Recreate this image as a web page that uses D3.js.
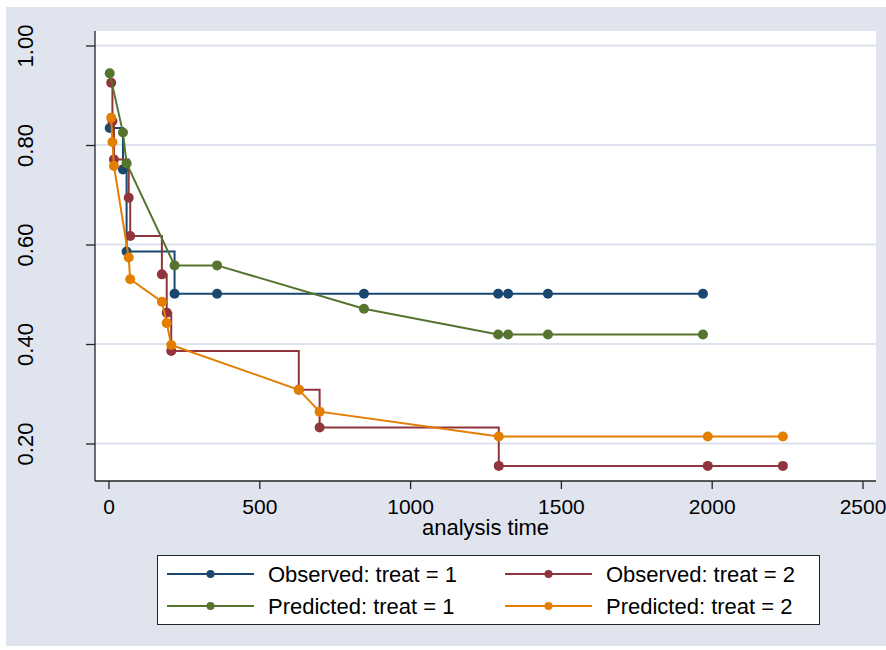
<!DOCTYPE html>
<html lang="en">
  <head>
    <meta charset="UTF-8" />
    <title>Observed vs predicted survival</title>
    <script src="https://d3js.org/d3.v7.min.js"></script>
    <style>
      body {
        margin: 0;
        background: #fff;
      }
      svg {
        display: block;
        font-family: "Liberation Sans", Arial, sans-serif;
      }
    </style>
  </head>
  <body>
    <svg width="886" height="650"></svg>
    <script>
      // analysis times for each treatment group
      const time1 = [4, 48, 60, 219, 360, 847, 1292, 1325, 1457, 1971];
      const time2 = [9, 13, 18, 67, 72, 177, 193, 208, 631, 700, 1294, 1987, 2236];

      // observed (Kaplan-Meier) and predicted (Cox) survival
      const observed1 = [0.834, 0.751, 0.586, 0.501, 0.501, 0.501, 0.501, 0.501, 0.501, 0.501];
      const predicted1 = [0.944, 0.825, 0.763, 0.558, 0.558, 0.471, 0.419, 0.419, 0.419, 0.419];
      const observed2 = [0.925, 0.848, 0.771, 0.694, 0.617, 0.540, 0.463, 0.386, 0.308, 0.232, 0.155, 0.155, 0.155];
      const predicted2 = [0.855, 0.806, 0.758, 0.574, 0.530, 0.485, 0.442, 0.398, 0.308, 0.264, 0.214, 0.214, 0.214];

      const xTicks = [0, 500, 1000, 1500, 2000, 2500];
      const yTicks = [0.2, 0.4, 0.6, 0.8, 1.0];

      const series = [
        { name: "Observed: treat = 1", t: time1, s: observed1, color: "#1a476f", step: true },
        { name: "Observed: treat = 2", t: time2, s: observed2, color: "#90353b", step: true },
        { name: "Predicted: treat = 1", t: time1, s: predicted1, color: "#55752f", step: false },
        { name: "Predicted: treat = 2", t: time2, s: predicted2, color: "#e37e00", step: false },
      ];

      const svg = d3.select("svg");
      const plot = { left: 95, right: 876, top: 31, bottom: 481 };

      // graph region and plot region
      svg.append("rect")
        .attr("x", 6).attr("y", 7)
        .attr("width", 880).attr("height", 639)
        .attr("fill", "#dfe4ef");
      svg.append("rect")
        .attr("x", plot.left).attr("y", plot.top)
        .attr("width", plot.right - plot.left)
        .attr("height", plot.bottom - plot.top)
        .attr("fill", "#fff");

      const x = d3.scaleLinear().domain([0, 2500]).range([108.5, 862.5]);
      const y = d3.scaleLinear().domain([0.2, 1.0]).range([443.5, 45.5]);

      // gridlines
      svg.append("g")
        .selectAll("line")
        .data(yTicks)
        .join("line")
        .attr("x1", plot.left).attr("x2", plot.right)
        .attr("y1", (d) => y(d)).attr("y2", (d) => y(d))
        .attr("stroke", "#dde2ee")
        .attr("stroke-width", 2);

      // Y axis
      const yAxis = svg.append("g")
        .attr("transform", `translate(${plot.left},0)`)
        .call(d3.axisLeft(y).tickValues(yTicks).tickSize(9).tickFormat(d3.format(".2f")));
      yAxis.select(".domain").attr("d", `M0,${plot.top}V${plot.bottom}`).attr("stroke", "#222").attr("stroke-width", 1.3);
      yAxis.selectAll(".tick line").attr("stroke", "#222").attr("stroke-width", 1.3);
      yAxis.selectAll(".tick text")
        .attr("font-size", 22)
        .attr("fill", "#000")
        .attr("x", null).attr("dy", null)
        .attr("text-anchor", "middle")
        .attr("transform", "translate(-62,0) rotate(-90)");

      // X axis
      const xAxis = svg.append("g")
        .attr("transform", `translate(0,${plot.bottom})`)
        .call(d3.axisBottom(x).tickValues(xTicks).tickSize(8).tickPadding(10).tickFormat(d3.format("d")));
      xAxis.select(".domain").attr("d", `M${plot.left},0H${plot.right}`).attr("stroke", "#222").attr("stroke-width", 1.3);
      xAxis.selectAll(".tick line").attr("stroke", "#222").attr("stroke-width", 1.3);
      xAxis.selectAll(".tick text").attr("font-size", 21).attr("fill", "#000");

      svg.append("text")
        .attr("x", (plot.left + plot.right) / 2)
        .attr("y", 535)
        .attr("text-anchor", "middle")
        .attr("font-size", 22)
        .text("analysis time");

      // curves
      series.forEach((sr) => {
        const pts = sr.t.map((t, i) => [t, sr.s[i]]);
        const line = d3.line()
          .x((d) => x(d[0]))
          .y((d) => y(d[1]))
          .curve(sr.step ? d3.curveStepAfter : d3.curveLinear);
        const g = svg.append("g");
        g.append("path")
          .datum(pts)
          .attr("fill", "none")
          .attr("stroke", sr.color)
          .attr("stroke-width", 2)
          .attr("d", line);
        g.selectAll("circle")
          .data(pts)
          .join("circle")
          .attr("cx", (d) => x(d[0]))
          .attr("cy", (d) => y(d[1]))
          .attr("r", 5)
          .attr("fill", sr.color);
      });

      // legend
      const legend = svg.append("g");
      legend.append("rect")
        .attr("x", 157.5).attr("y", 555.5)
        .attr("width", 662).attr("height", 69)
        .attr("fill", "#fff")
        .attr("stroke", "#222")
        .attr("stroke-width", 1);
      const cols = [167, 505];
      const rows = [574, 606];
      series.forEach((sr, i) => {
        const cx = cols[i % 2];
        const cy = rows[Math.floor(i / 2)];
        const item = legend.append("g").attr("transform", `translate(${cx},${cy})`);
        item.append("line")
          .attr("x1", 0).attr("x2", 87)
          .attr("stroke", sr.color)
          .attr("stroke-width", 2);
        item.append("circle")
          .attr("cx", 43.5)
          .attr("r", 4)
          .attr("fill", sr.color);
        item.append("text")
          .attr("x", 101)
          .attr("dy", "0.35em")
          .attr("font-size", 22)
          .text(sr.name);
      });
    </script>
  </body>
</html>
